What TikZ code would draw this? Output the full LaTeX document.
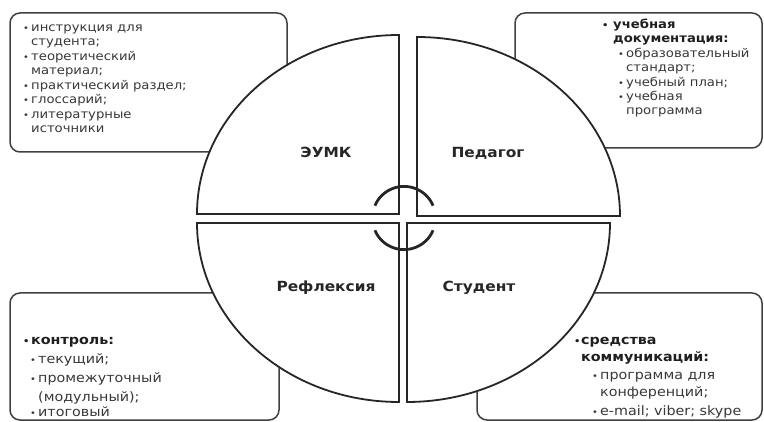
\documentclass[tikz,border=0pt]{standalone}
\usepackage{fontspec}
\setmainfont{DejaVu Sans}
\newfontfamily\lf{DejaVu Sans}[FakeStretch=1.1]
\newcommand{\bu}[1]{\makebox[#1][l]{\fontsize{9}{9}\selectfont •}}
\begin{document}
\begin{tikzpicture}[x=1pt,y=-1pt,
  box/.style={draw=black!75, line width=1.5pt, rounded corners=10pt, fill=white},
  quad/.style={draw=black!85, line width=1.8pt, fill=white},
  ring/.style={draw=black!85, line width=2.8pt},
  lab/.style={anchor=base, inner sep=0, font=\lf\bfseries\fontsize{14}{16}\selectfont, text=black!85},
  li/.style={anchor=base west, inner sep=0, font=\lf\fontsize{12}{14}\selectfont, text=black!78},
  lb/.style={li, font=\lf\bfseries\fontsize{12}{14}\selectfont, text=black!88},
  lil/.style={li, font=\lf\fontsize{13}{15}\selectfont},
  lbl/.style={lb, font=\lf\bfseries\fontsize{13}{15}\selectfont}]
\useasboundingbox (0,0) rectangle (764,422);
% boxes
\draw[box] (10,13) rectangle (287,152);
\draw[box] (515,13) rectangle (762,148);
\draw[box] (10,293) rectangle (279,420);
\draw[box] (477,293) rectangle (762,420);
% quadrants
\draw[quad] (399,214) -- (197,214) arc[start angle=180,end angle=270,x radius=202,y radius=179] -- cycle;
\draw[quad] (417,216) -- (417,37) arc[start angle=270,end angle=360,x radius=203,y radius=179] -- cycle;
\draw[quad] (399,223) -- (399,402) arc[start angle=90,end angle=180,x radius=202,y radius=179] -- cycle;
\draw[quad] (407,223) -- (610,223) arc[start angle=0,end angle=90,x radius=203,y radius=179] -- cycle;
% centre rings
\coordinate (c) at (404,218);
\draw[ring] (c) ++(203:31.6) arc[start angle=203,end angle=337,radius=31.6];
\draw[ring] (c) ++(23:31.6) arc[start angle=23,end angle=157,radius=31.6];
% labels
\node[lab] (eumk) at (326,158) {ЭУМК};
\node[lab] (ped) at (488,158) {Педагог};
\node[lab] (ref) at (326,292) {Рефлексия};
\node[lab] (stu) at (479,292) {Студент};
% top-left list
\node[li] (tl1) at (23,31.5) {\bu{8pt}инструкция для};
\node[li] (tl2) at (31,46) {студента;};
\node[li] (tl3) at (23,60.5) {\bu{8pt}теоретический};
\node[li] (tl4) at (31,75) {материал;};
\node[li] (tl5) at (23,89.5) {\bu{8pt}практический раздел;};
\node[li] (tl6) at (23,104) {\bu{8pt}глоссарий;};
\node[li] (tl7) at (23,118.5) {\bu{8pt}литературные};
\node[li] (tl8) at (31,133) {источники};
% top-right list
\node[lb] (tr1) at (602,29) {\bu{11pt}учебная};
\node[lb] (tr2) at (613,43) {документация:};
\node[li] (tr3) at (618,57.5) {\bu{8pt}образовательный};
\node[li] (tr4) at (626,72) {стандарт;};
\node[li] (tr5) at (618,86.5) {\bu{8pt}учебный план;};
\node[li] (tr6) at (618,101) {\bu{8pt}учебная};
\node[li] (tr7) at (626,115) {программа};
% bottom-left list
\node[lbl] (bl1) at (23,345) {\bu{8pt}контроль:};
\node[lil] (bl2) at (30,364) {\bu{8pt}текущий;};
\node[lil] (bl3) at (30,383) {\bu{8pt}промежуточный};
\node[lil] (bl4) at (38,402) {(модульный);};
\node[lil] (bl5) at (30,416.5) {\bu{8pt}итоговый};
% bottom-right list
\node[lbl] (br1) at (574,345) {\bu{7pt}средства};
\node[lbl] (br2) at (581,362) {коммуникаций:};
\node[lil] (br3) at (592,380) {\bu{8pt}программа для};
\node[lil] (br4) at (600,397) {конференций;};
\node[lil] (br5) at (592,415) {\bu{8pt}e-mail; viber; skype};
\end{tikzpicture}
\end{document}
